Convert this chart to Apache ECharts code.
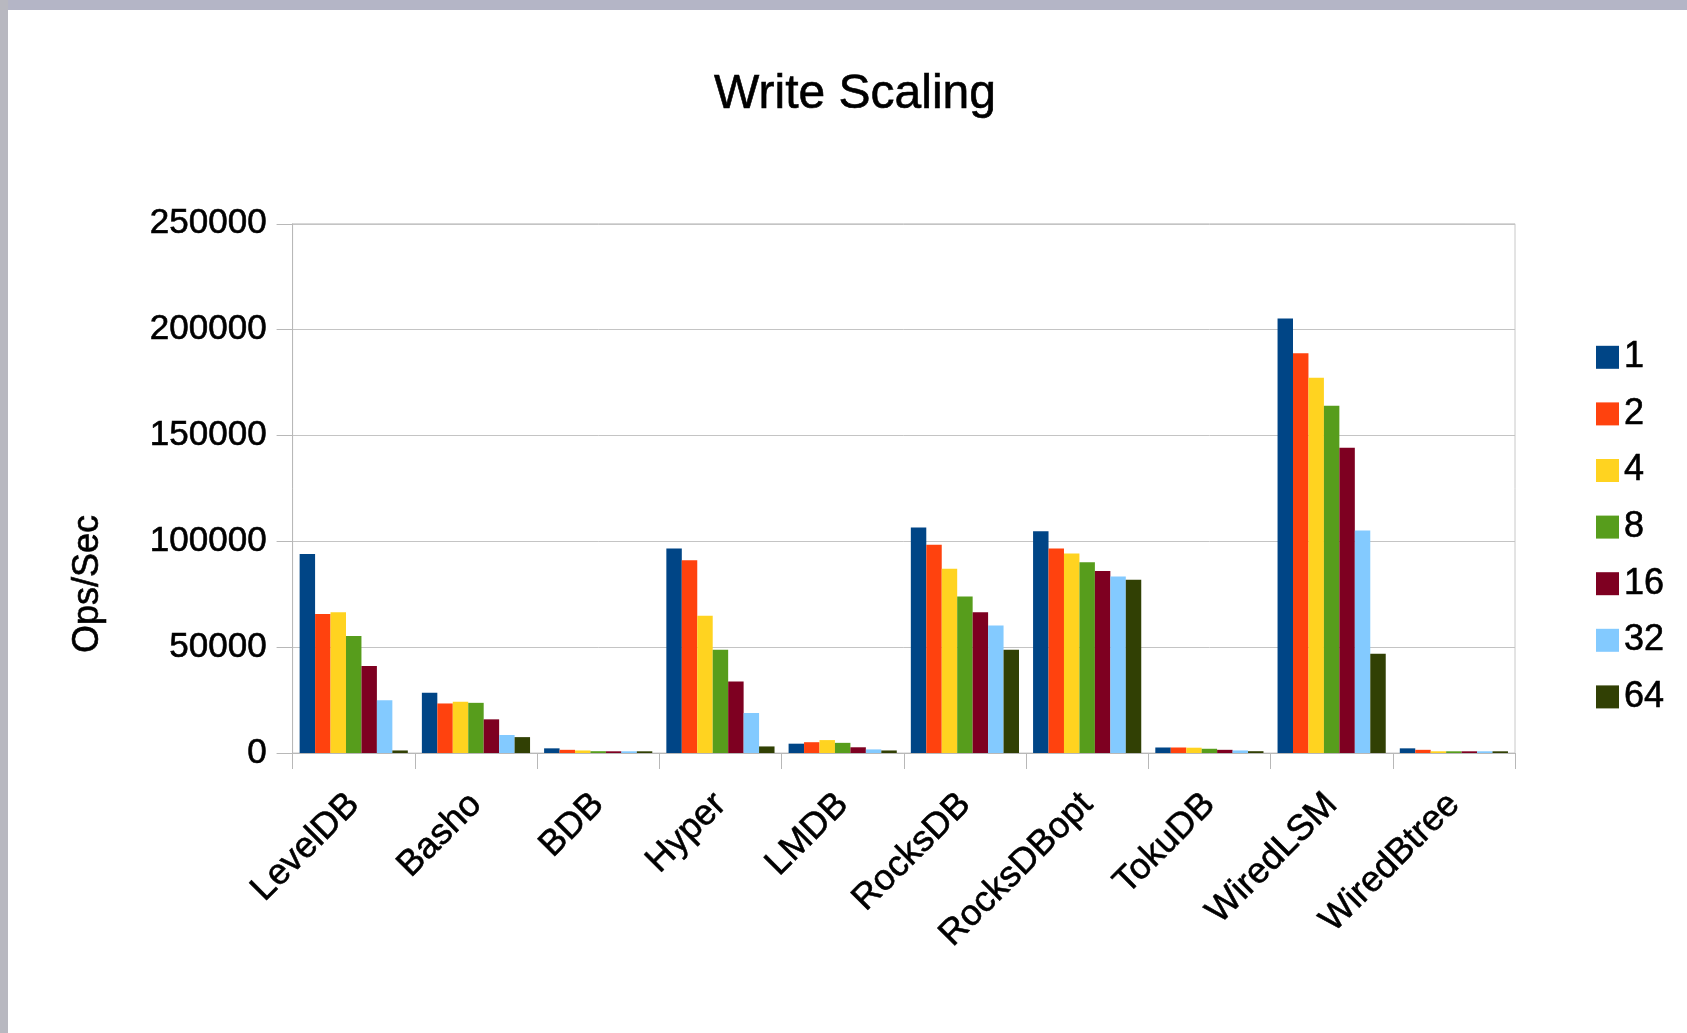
<!DOCTYPE html>
<html>
<head>
<meta charset="utf-8">
<script src="https://cdn.jsdelivr.net/npm/echarts@6/dist/echarts.min.js"></script>
<style>
  html, body { margin: 0; padding: 0; background: #ffffff; }
  #chart { width: 1687px; height: 1033px; }
</style>
</head>
<body>
<div id="chart"></div>
<script>
const categories = ['LevelDB', 'Basho', 'BDB', 'Hyper', 'LMDB', 'RocksDB', 'RocksDBopt', 'TokuDB', 'WiredLSM', 'WiredBtree'];
const seriesNames = ['1', '2', '4', '8', '16', '32', '64'];
const t1  = [94000, 28500, 2200, 96600, 4400, 106500, 104700, 2600, 205300, 2200];
const t2  = [65700, 23400, 1500, 91100, 5100, 98400, 96600, 2600, 188900, 1500];
const t4  = [66500, 24200, 1200, 64800, 6100, 87000, 94300, 2500, 177300, 800];
const t8  = [55300, 23700, 850, 48800, 4800, 73900, 90100, 2000, 164100, 800];
const t16 = [41100, 15900, 800, 33800, 2700, 66500, 86000, 1500, 144200, 800];
const t32 = [24900, 8500, 800, 18900, 1700, 60200, 83400, 1200, 105100, 800];
const t64 = [1200, 7500, 800, 3100, 1200, 48800, 81900, 850, 46900, 800];
const yTicks = { min: 0, max: 250000, interval: 50000 };

const seriesData = [t1, t2, t4, t8, t16, t32, t64];
const colors = ['#004586', '#ff420e', '#ffd320', '#579d1c', '#7e0021', '#83caff', '#314004'];
const FONT = 'Liberation Sans';
const thick = { textBorderColor: '#000', textBorderWidth: 0.6 };

const chart = echarts.init(document.getElementById('chart'), null, { renderer: 'canvas' });
chart.setOption({
  backgroundColor: '#ffffff',
  animation: false,
  color: colors,
  textStyle: { fontFamily: FONT },
  title: {
    text: 'Write Scaling',
    left: 855,
    textAlign: 'center',
    top: 71,
    padding: 0,
    textStyle: Object.assign({ fontFamily: FONT, fontSize: 48, fontWeight: 'normal', color: '#000' }, thick)
  },
  legend: {
    orient: 'vertical',
    left: 1591,
    top: 334,
    itemWidth: 23,
    itemHeight: 23,
    itemGap: 20,
    itemTextGap: 16,
    icon: 'rect',
    textStyle: Object.assign({ fontFamily: FONT, fontSize: 36, color: '#000', lineHeight: 36 }, thick),
    data: seriesNames
  },
  grid: {
    left: 292.6,
    right: 172,
    top: 223.8,
    bottom: 280,
    containLabel: false,
    show: true,
    borderColor: '#c8c8c8',
    borderWidth: 1
  },
  xAxis: {
    type: 'category',
    data: categories,
    boundaryGap: true,
    axisLine: { lineStyle: { color: '#b8b8b8', width: 1 } },
    axisTick: { show: true, length: 16, inside: false, lineStyle: { color: '#b8b8b8' } },
    axisLabel: Object.assign({
      interval: 0,
      rotate: 45,
      margin: 46,
      align: 'right',
      verticalAlign: 'middle',
      fontFamily: FONT,
      fontSize: 36,
      color: '#000'
    }, thick)
  },
  yAxis: {
    type: 'value',
    min: yTicks.min,
    max: yTicks.max,
    interval: yTicks.interval,
    axisLine: { show: true, lineStyle: { color: '#b8b8b8', width: 1 } },
    axisTick: { show: true, length: 16, inside: false, lineStyle: { color: '#b8b8b8' } },
    axisLabel: Object.assign({
      margin: 26, fontFamily: FONT, fontSize: 35, color: '#000',
      formatter: function (v) { return String(v); }
    }, thick),
    splitLine: { show: true, lineStyle: { color: '#c4c4c4', width: 1 } }
  },
  series: seriesNames.map((name, i) => ({
    name: name,
    type: 'bar',
    data: seriesData[i],
    barGap: '0%',
    barCategoryGap: '11.5%'
  })),
  graphic: [
    { type: 'rect', z: 100, shape: { x: 0, y: 0, width: 1687, height: 10 }, style: { fill: '#b4b5c6' } },
    { type: 'rect', z: 100, shape: { x: 0, y: 0, width: 8, height: 1033 }, style: { fill: '#b8b8c0' } },
    {
      type: 'text',
      x: 88,
      y: 584,
      rotation: Math.PI / 2,
      style: {
        text: 'Ops/Sec',
        font: '36px "Liberation Sans"',
        fill: '#000',
        stroke: '#000',
        lineWidth: 0.6,
        align: 'center',
        verticalAlign: 'middle'
      }
    }
  ]
});
</script>
</body>
</html>
